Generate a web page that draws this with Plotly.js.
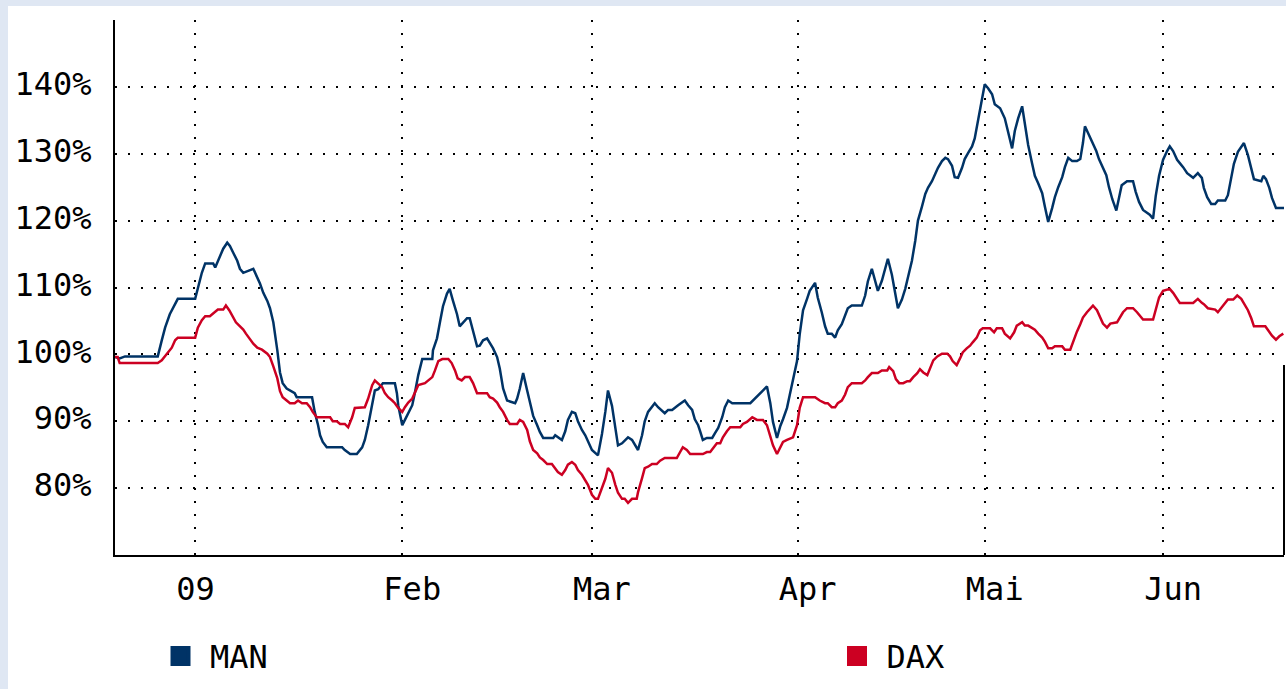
<!DOCTYPE html>
<html>
<head>
<meta charset="utf-8">
<script src="https://cdn.plot.ly/plotly-3.0.1.min.js"></script>
<style>
  html, body { margin:0; padding:0; background:#dfe7f3; width:1286px; height:689px; overflow:hidden; }
  #chart { position:absolute; left:8px; top:6px; width:1278px; height:683px; background:#fff; }
</style>
</head>
<body>
<div id="chart"></div>
<script>
// Sample position (trading-day scale) and performance in % (start = 100%)
const dayMAN = [0,0.7,1.5,6.4,7.0,7.5,8.2,9.0,9.4,12.0,12.4,13.0,13.5,14.7,15.0,15.7,16.2,16.8,17.2,17.7,18.3,18.7,19.2,20.7,21.3,21.7,22.2,22.8,23.2,23.7,24.3,24.7,25.1,25.7,26.9,27.2,29.5,29.9,30.4,30.7,31.1,31.7,34.0,34.4,35.2,36.2,37.0,37.4,37.9,38.5,38.9,39.4,40.1,41.9,42.2,42.4,43.0,43.4,43.9,44.5,44.9,45.4,46.0,47.5,47.6,48.2,48.7,49.1,49.7,50.1,50.6,51.2,51.6,52.1,52.7,53.1,53.6,54.2,54.6,55.1,55.7,56.1,56.6,57.2,57.6,58.1,58.7,59.9,60.2,60.6,61.1,61.7,62.1,62.6,63.2,63.6,64.1,65.6,65.9,66.3,66.9,67.4,67.8,68.4,68.9,69.3,69.9,70.4,70.8,71.4,72.3,72.9,73.4,73.8,74.4,74.9,75.3,75.9,76.8,77.4,78.3,78.9,79.3,79.8,80.8,81.3,82.3,82.8,83.4,84.3,85.3,85.8,86.4,86.8,87.3,87.6,88.0,88.6,89.4,89.8,90.3,90.9,91.3,91.8,92.4,95.1,95.5,96.1,96.6,97.0,97.6,98.1,98.5,99.1,99.6,100.0,100.6,101.0,101.5,102.1,102.5,103.0,103.6,104.0,104.8,105.2,105.8,106.3,106.7,107.3,107.8,108.2,108.8,109.3,109.7,110.3,111.8,112.3,112.7,113.3,113.8,114.2,114.8,115.3,115.7,116.3,116.8,117.2,117.8,118.3,118.7,119.3,119.8,120.2,120.8,121.3,121.7,122.3,122.8,123.2,123.8,124.3,124.7,125.3,125.7,126.2,126.8,127.2,127.7,128.3,128.7,129.2,129.8,130.2,130.7,131.3,131.7,132.5,133.2,133.7,134.3,134.7,135.2,135.8,136.2,136.7,137.3,137.7,138.2,138.8,139.2,139.7,140.3,140.7,141.2,141.8,142.2,142.7,143.3,144.0,144.5,144.9,145.2,145.8,146.3,146.9,147.3,147.8,148.4,148.8,149.3,149.9,150.3,150.7,151.5,152.4,152.8,153.3,153.9,154.9,155.4,155.8,156.3,156.9,157.5,157.9,158.4,159.0,159.4,159.9,160.5,161.4,162.1,162.7,163.0,163.5,164.1,164.7,165.1,166.2,166.6,167.1,167.5,168.1,168.6,169.0,169.6,170.1,170.5,171.6,171.9,172.3,172.8,173.2,173.8,175.0];
const valMAN = [99.6,99.4,99.7,99.7,102.1,104.0,106.0,107.7,108.3,108.3,110.0,112.2,113.6,113.6,113.0,114.6,115.8,116.7,116.2,115.2,114.0,112.8,112.2,112.8,111.5,110.6,109.2,108.0,106.9,104.8,100.6,97.3,95.7,94.9,94.2,93.6,93.6,91.4,89.4,87.9,86.9,86.1,86.1,85.7,85.1,85.1,86.1,87.2,89.4,92.4,94.6,94.8,95.7,95.7,94.2,92.4,89.4,90.2,91.2,92.4,94.3,96.9,99.3,99.3,100.6,102.4,105.1,107.2,109.1,109.8,108.0,106.0,104.2,104.8,105.4,105.4,103.3,101.2,101.3,102.1,102.4,101.8,100.9,99.6,97.9,94.9,93.1,92.7,93.4,94.9,97.2,94.6,92.8,90.8,89.4,88.4,87.5,87.5,87.9,87.6,87.2,88.5,90.2,91.4,91.2,90.0,88.7,87.9,87.0,85.7,84.9,88.1,91.4,94.6,92.3,88.7,86.4,86.7,87.6,87.2,85.7,87.9,90.0,91.4,92.7,92.1,91.2,91.7,91.7,92.4,93.1,92.4,91.7,90.3,89.4,88.5,87.2,87.5,87.5,88.2,89.0,90.6,92.1,93.1,92.7,92.7,93.1,93.6,94.2,94.6,95.2,92.7,89.9,87.5,89.3,90.3,92.0,93.9,96.1,99.0,103.0,106.6,108.3,109.5,110.7,108.5,106.3,104.2,103.1,103.1,102.5,103.6,104.5,105.8,106.9,107.3,107.3,108.8,110.9,112.8,111.0,109.5,111.0,112.8,114.3,111.9,109.2,106.9,108.2,109.8,111.5,114.0,117.0,120.0,122.1,124.0,124.9,125.9,127.0,127.9,128.9,129.4,129.2,128.2,126.5,126.4,127.9,129.2,130.1,131.1,132.3,134.9,137.9,140.4,139.8,138.9,137.4,136.8,135.3,133.2,130.8,133.4,135.3,137.1,134.3,131.3,128.5,126.7,125.6,124.1,122.1,119.8,121.9,123.5,125.0,126.5,128.0,129.4,128.9,128.9,129.2,131.6,134.1,132.8,131.6,130.4,129.2,128.2,126.8,125.0,123.2,121.5,123.5,125.3,125.9,125.9,124.3,122.8,121.6,120.9,120.3,123.7,126.7,129.1,130.4,131.1,130.4,129.1,128.6,128.0,127.1,126.4,127.1,126.4,124.9,123.5,122.5,122.5,123.0,123.0,123.8,126.2,128.5,130.3,131.1,131.6,129.8,127.7,126.2,125.9,126.7,126.2,124.9,123.4,121.9,121.9];

const dayDAX = [0,0.4,0.7,6.4,7.0,7.5,7.9,8.5,9.0,9.4,12.0,12.4,13.0,13.5,14.2,14.7,15.4,16.2,16.6,17.1,17.7,18.1,18.6,19.2,19.6,20.1,20.7,21.3,22.0,22.8,23.2,23.7,24.3,24.7,25.1,25.7,26.2,26.9,27.4,28.0,28.7,29.2,29.6,30.2,32.2,32.6,33.2,33.7,34.4,34.9,35.5,35.9,37.4,37.9,38.5,38.9,39.4,40.0,40.4,40.9,41.5,41.9,42.4,43.0,43.4,43.9,44.5,44.9,45.4,46.4,46.9,47.5,47.9,48.4,49.0,49.9,50.4,50.9,51.3,51.9,52.4,53.1,53.6,54.2,55.7,56.1,56.6,57.2,57.6,58.1,58.7,59.1,60.2,60.6,61.1,61.7,62.1,62.6,63.2,63.6,64.1,64.7,65.4,65.9,66.3,66.9,67.4,67.8,68.4,68.9,69.3,69.9,70.4,70.8,71.4,71.9,72.3,72.9,73.4,73.8,74.4,74.9,75.3,75.9,76.3,76.8,77.4,78.1,78.3,78.9,79.3,79.8,80.4,81.1,81.6,82.3,84.1,84.6,85.0,85.6,86.1,88.0,88.6,89.1,89.5,90.1,90.6,91.0,91.6,92.1,93.6,94.0,94.6,95.4,96.1,97.0,97.6,98.1,98.5,99.1,99.6,100.0,100.6,101.5,102.1,102.5,103.0,104.8,105.5,106.3,106.7,107.3,107.8,108.2,108.8,109.3,109.7,110.3,111.8,112.3,112.7,113.3,114.2,114.8,115.6,115.9,116.5,116.9,117.4,118.0,118.6,119.0,119.5,120.1,120.5,121.0,121.6,122.0,122.5,123.1,123.8,124.6,125.0,125.4,126.0,126.5,126.9,127.5,128.0,128.4,129.0,129.5,129.9,131.0,131.6,132.0,132.8,133.2,134.0,134.6,135.0,135.8,136.2,136.7,137.3,137.7,138.2,138.8,139.2,139.7,140.3,140.7,141.8,142.2,143.0,143.4,144.0,144.5,144.9,145.5,146.0,146.4,147.0,147.5,147.9,148.5,149.0,150.0,150.4,150.9,151.5,152.4,153.0,153.4,153.9,155.4,155.8,156.3,156.9,157.9,158.4,159.0,159.4,161.4,162.1,162.7,163.0,163.6,164.7,165.1,165.7,166.2,166.6,167.4,168.0,168.6,169.0,169.6,170.1,170.5,172.2,172.6,173.2,173.8,174.3,174.9];
const valDAX = [99.6,99.6,98.7,98.7,99.1,99.7,100.3,101.0,102.1,102.5,102.5,104.0,105.1,105.7,105.7,106.1,106.7,106.7,107.3,106.6,105.5,104.8,104.3,103.7,103.1,102.4,101.6,101.0,100.7,100.1,99.6,98.2,96.4,94.5,93.6,93.1,92.7,92.7,93.1,92.7,92.7,92.1,91.4,90.6,90.6,90.0,90.0,89.6,89.6,89.1,90.6,92.0,92.1,93.4,95.4,96.1,95.7,95.1,94.2,93.6,93.1,92.7,92.0,91.4,92.1,92.8,93.4,94.2,95.4,95.7,96.1,96.6,97.6,99.0,99.3,99.3,98.7,97.6,96.4,96.1,96.6,96.6,95.7,94.2,94.2,93.6,93.4,92.8,92.1,91.4,90.2,89.6,89.6,90.2,89.9,88.7,87.0,85.7,85.2,84.6,84.2,83.6,83.6,83.0,82.4,82.0,82.7,83.5,83.9,83.5,82.7,82.0,81.2,80.5,79.0,78.4,78.4,79.9,81.4,83.0,82.3,80.5,79.3,78.4,78.4,77.8,78.4,78.4,79.4,81.5,83.0,83.2,83.6,83.6,84.1,84.5,84.5,85.4,86.1,85.7,85.1,85.1,85.4,85.4,86.0,86.7,86.7,87.6,88.5,89.1,89.1,89.6,89.9,90.6,90.2,90.2,89.4,87.9,86.4,85.1,86.1,86.9,87.2,87.6,89.4,92.0,93.6,93.6,93.1,92.7,92.7,92.1,92.1,92.7,93.1,94.0,95.1,95.7,95.7,96.1,96.6,97.2,97.2,97.6,97.6,98.1,97.5,96.3,95.7,95.7,96.0,96.0,96.6,97.2,97.8,97.3,96.9,97.8,99.1,99.7,100.1,100.1,99.7,99.0,98.4,99.4,100.3,100.9,101.3,101.8,102.5,103.6,103.9,103.9,103.3,103.9,103.9,103.1,102.4,103.3,104.3,104.8,104.3,104.3,103.9,103.7,103.1,102.5,101.9,100.9,100.9,101.2,101.2,100.7,100.7,101.9,103.4,104.5,105.5,106.3,106.9,107.3,106.6,105.5,104.6,104.0,104.6,104.8,105.5,106.3,106.9,106.9,106.3,105.8,105.2,105.2,106.6,108.5,109.5,109.8,109.2,108.3,107.7,107.7,108.3,107.7,107.5,106.9,106.7,106.3,107.0,107.6,108.2,108.2,108.8,108.3,107.6,106.6,105.4,104.2,104.2,103.6,102.8,102.2,102.7,103.1];

const monthPos = [12.0, 43.0, 71.4, 102.2, 130.2, 156.9];
const monthLabels = ['09\u00a0', 'Feb', 'Mar', 'Apr', 'Mai', 'Jun'];
const pctTicks = [80, 90, 100, 110, 120, 130, 140];
const pctLabels = ['80%', '90%', '100%', '110%', '120%', '130%', '140%'];
const seriesNames = ['MAN', 'DAX'];
const seriesColors = ['#003366', '#cc0022'];

if (dayMAN.length !== valMAN.length) throw new Error('MAN length mismatch ' + dayMAN.length + ' vs ' + valMAN.length);
if (dayDAX.length !== valDAX.length) throw new Error('DAX length mismatch ' + dayDAX.length + ' vs ' + valDAX.length);

const FONT = 'DejaVu Sans Mono, monospace';

const traces = [
  {x: dayMAN, y: valMAN, type: 'scatter', mode: 'lines', name: seriesNames[0],
   line: {color: seriesColors[0], width: 2.5}, showlegend: false},
  {x: dayDAX, y: valDAX, type: 'scatter', mode: 'lines', name: seriesNames[1],
   line: {color: seriesColors[1], width: 2.5}, showlegend: false},
  {x: [null], y: [null], type: 'scatter', mode: 'markers', name: seriesNames[0],
   marker: {symbol: 'square', size: 16, color: seriesColors[0], line: {color: seriesColors[0], width: 4}},
   showlegend: true, legend: 'legend'},
  {x: [null], y: [null], type: 'scatter', mode: 'markers', name: seriesNames[1],
   marker: {symbol: 'square', size: 16, color: seriesColors[1], line: {color: seriesColors[1], width: 4}},
   showlegend: true, legend: 'legend2'}
];

const gridCommon = {
  showgrid: true, gridcolor: '#000', gridwidth: 2, griddash: '2px,11px',
  showline: true, linecolor: '#000', linewidth: 2, zeroline: false,
  ticks: '', fixedrange: true,
  tickfont: {family: FONT, size: 32, color: '#000'}
};

const legendCommon = {
  orientation: 'h', y: -0.189, xanchor: 'left', yanchor: 'middle',
  font: {family: FONT, size: 32, color: '#000'},
  itemwidth: 49, bgcolor: 'rgba(0,0,0,0)', borderwidth: 0
};

const layout = {
  width: 1278, height: 683,
  margin: {l: 107, r: 2, t: 14, b: 134, pad: 0, autoexpand: false},
  paper_bgcolor: '#ffffff', plot_bgcolor: '#ffffff',
  font: {family: FONT, size: 32, color: '#000'},
  hovermode: false,
  xaxis: Object.assign({}, gridCommon, {
    range: [0, 175], tickmode: 'array', tickvals: monthPos, ticktext: monthLabels,
    ticklabelshift: 10, ticklabelstandoff: 5
  }),
  yaxis: Object.assign({}, gridCommon, {
    range: [70, 150], tickmode: 'array', tickvals: pctTicks, ticktext: pctLabels,
    ticklabelstandoff: 15, ticklabelshift: -3
  }),
  showlegend: true,
  legend: Object.assign({}, legendCommon, {x: 0.0308}),
  legend2: Object.assign({}, legendCommon, {x: 0.6095}),
  shapes: [
    {type: 'line', xref: 'paper', yref: 'paper', x0: 1, x1: 1, y0: 0, y1: 0.355,
     line: {color: '#000', width: 2}}
  ]
};

Plotly.newPlot('chart', traces, layout, {staticPlot: true, displayModeBar: false});
</script>
</body>
</html>
